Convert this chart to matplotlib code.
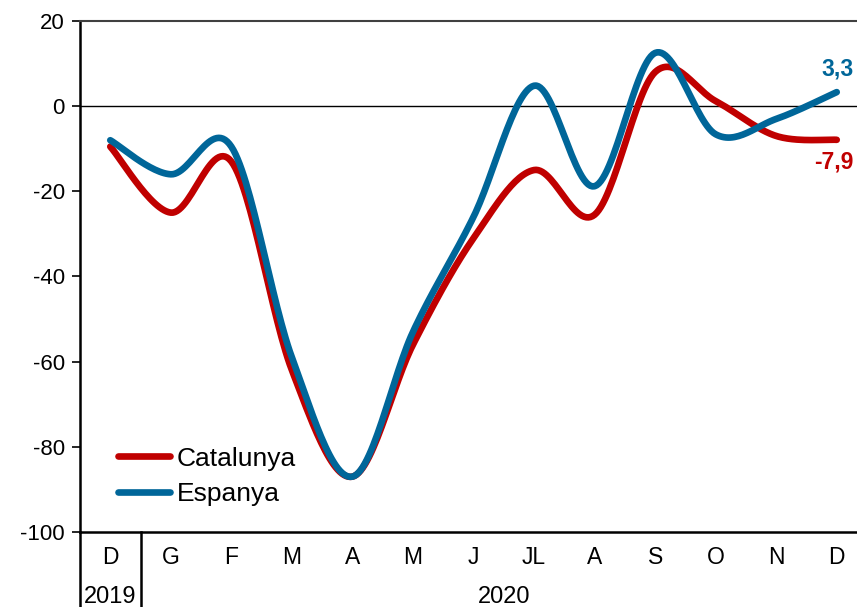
import numpy as np
import matplotlib
matplotlib.use('Agg')
import matplotlib.pyplot as plt
import matplotlib.transforms as mtransforms

plt.rcParams['font.family'] = ['Liberation Sans', 'DejaVu Sans']

months = ['D', 'G', 'F', 'M', 'A', 'M', 'J', 'JL', 'A', 'S', 'O', 'N', 'D']
years = ['2019', '2020']
catalunya = [-9.5, -25.0, -13.0, -62.0, -87.0, -56.0, -31.0, -15.0, -25.5, 8.0, 1.2, -7.0, -7.9]
espanya = [-8.0, -16.0, -9.5, -59.0, -87.0, -53.0, -26.0, 4.8, -18.8, 12.5, -6.6, -3.0, 3.3]

RED = '#C00000'
BLUE = '#006699'


def smooth(y, n=30):
    # excel-style smoothed line (catmull-rom through the points)
    y = np.asarray(y, float)
    x = np.arange(len(y), dtype=float)
    P = np.column_stack([x, y])
    P = np.vstack([P[0], P, P[-1]])
    out = []
    t = np.linspace(0, 1, n)[:, None]
    for i in range(1, len(P) - 2):
        p0, p1, p2, p3 = P[i - 1], P[i], P[i + 1], P[i + 2]
        c1 = p1 + (p2 - p0) / 6
        c2 = p2 - (p3 - p1) / 6
        seg = ((1 - t) ** 3) * p1 + 3 * ((1 - t) ** 2) * t * c1 + 3 * (1 - t) * t ** 2 * c2 + t ** 3 * p2
        out.append(seg if i == 1 else seg[1:])
    out = np.vstack(out)
    return out[:, 0], out[:, 1]


fig = plt.figure(figsize=(8.57, 6.07), dpi=100)
W, H = 857, 607
ax = fig.add_axes([80 / W, 75 / H, 787 / W, 511 / H])

ax.axhline(0, color='black', lw=1, zorder=1)

xc, yc = smooth(catalunya)
xe, ye = smooth(espanya)
ax.plot(xc, yc, color=RED, lw=4.8, solid_capstyle='round', label='Catalunya', zorder=3)
ax.plot(xe, ye, color=BLUE, lw=4.8, solid_capstyle='round', label='Espanya', zorder=4)

ax.set_xlim(-0.5, len(months) - 0.5)
ax.set_ylim(-100, 20)
ax.set_yticks(range(-100, 21, 20))
ax.set_yticklabels([str(v) for v in range(-100, 21, 20)], fontsize=16)
ax.tick_params(axis='y', length=6, width=1.2, pad=5)
ax.set_xticks([])

for s in ['left', 'bottom']:
    ax.spines[s].set_linewidth(1.8)
ax.spines['top'].set_color('#404040')
ax.spines['top'].set_linewidth(1.5)
ax.spines['right'].set_visible(False)

trans = mtransforms.blended_transform_factory(ax.transData, ax.transAxes)
ah = 511
for i, m in enumerate(months):
    ax.text(i, -25 / ah, m, transform=trans, ha='center', va='center', fontsize=16.5)
ax.text(0, -65 / ah, years[0], transform=trans, ha='center', va='center', fontsize=17)
ax.text((1 + len(months) - 1) / 2, -65 / ah, years[1], transform=trans, ha='center', va='center', fontsize=17)
for xv in [-0.5, 0.5]:
    ax.plot([xv, xv], [0, -0.16], transform=trans, color='black', lw=1.8, clip_on=False)

ax.annotate('3,3', (12, espanya[-1]), xytext=(-11, 17), textcoords='offset points',
            color=BLUE, fontsize=16.5, fontweight='bold', va='center', ha='left')
ax.annotate('-7,9', (12, catalunya[-1]), xytext=(-16, -16), textcoords='offset points',
            color=RED, fontsize=16.5, fontweight='bold', va='center', ha='left')

ax.legend(loc='lower left', bbox_to_anchor=(27 / 787, 15 / 511), frameon=False, fontsize=19,
          handlelength=2.0, handletextpad=0.25, labelspacing=0.45, borderaxespad=0)

fig.savefig('out.png', dpi=100)
